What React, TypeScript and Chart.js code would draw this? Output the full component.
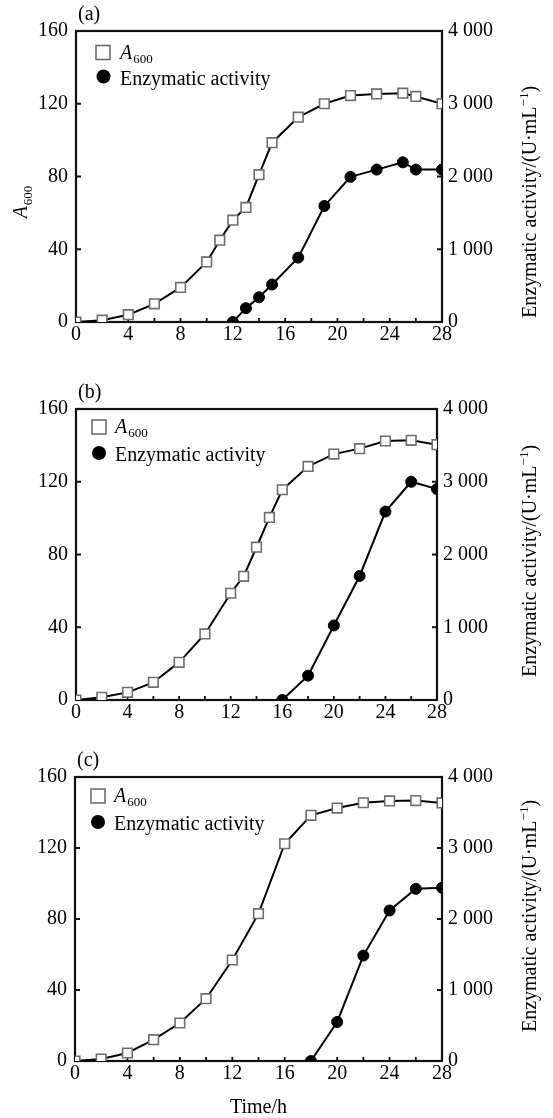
import React, { useEffect, useRef } from "react";
import { Chart, registerables } from "chart.js";

Chart.register(...registerables);

// ---------- data ----------
const timeA_A600 = [0, 2, 4, 6, 8, 10, 11, 12, 13, 14, 15, 17, 19, 21, 23, 25, 26, 28];
const valA_A600 = [0, 1, 4, 10, 19, 33, 45, 56, 63, 81, 98.6, 112.6, 120, 124.5, 125.4, 125.8, 124, 120];
const timeA_Enz = [12, 13, 14, 15, 17, 19, 21, 23, 25, 26, 28];
const valA_Enz = [0, 190, 340, 515, 885, 1595, 1995, 2095, 2195, 2095, 2095];

const timeB_A600 = [0, 2, 4, 6, 8, 10, 12, 13, 14, 15, 16, 18, 20, 22, 24, 26, 28];
const valB_A600 = [0, 1.5, 4.2, 9.7, 20.7, 36.3, 58.7, 68, 84, 100.4, 115.6, 128.4, 135.2, 138.2, 142.4, 142.8, 140.4];
const timeB_Enz = [16, 18, 20, 22, 24, 26, 28];
const valB_Enz = [0, 335, 1025, 1705, 2590, 3000, 2900];

const timeC_A600 = [0, 2, 4, 6, 8, 10, 12, 14, 16, 18, 20, 22, 24, 26, 28];
const valC_A600 = [0, 1.1, 4.5, 12, 21.4, 35.1, 56.9, 83, 122.4, 138.4, 142.5, 145.5, 146.5, 146.7, 145.4];
const timeC_Enz = [18, 20, 22, 24, 26, 28];
const valC_Enz = [0, 550, 1485, 2120, 2425, 2440];

const X_MIN = 0, X_MAX = 28, X_STEP = 4;
const X_MARKS = [0, 2, 4, 6, 8, 10, 12, 14, 16, 18, 20, 22, 24, 26, 28];
const Y_MIN = 0, Y_MAX = 160, Y_STEP = 40;
const Y_MARKS = [0, 40, 80, 120, 160];
const Y1_MIN = 0, Y1_MAX = 4000, Y1_STEP = 1000;
const Y1_MARKS = [0, 1000, 2000, 3000, 4000];

const LEGEND_A600 = "A";
const LEGEND_A600_SUB = "600";
const LEGEND_ENZ = "Enzymatic activity";
const RIGHT_TITLE_MAIN = "Enzymatic activity/(U·mL";
const RIGHT_TITLE_SUP = "−1";
const RIGHT_TITLE_END = ")";
const X_TITLE = "Time/h";

const FONT = '"Liberation Serif", "Times New Roman", serif';

type Panel = {
  id: string;
  label: string;
  top: number;
  height: number;
  padTop: number;
  left: number;
  right: number;
  xh: number;
  tA: number[];
  vA: number[];
  tE: number[];
  vE: number[];
  legSq: [number, number];
  legCi: [number, number];
  legTx: number;
  rightTitleY: number;
  leftTitle: boolean;
  xTitle: boolean;
};

const panels: Panel[] = [
  {
    id: "a", label: "(a)", top: 0, height: 365, padTop: 31, left: 76, right: 442, xh: 43,
    tA: timeA_A600, vA: valA_A600, tE: timeA_Enz, vE: valA_Enz,
    legSq: [103, 52.5], legCi: [103.5, 76.5], legTx: 120, rightTitleY: 202, leftTitle: true, xTitle: false,
  },
  {
    id: "b", label: "(b)", top: 365, height: 370, padTop: 44, left: 76, right: 437, xh: 35,
    tA: timeB_A600, vA: valB_A600, tE: timeB_Enz, vE: valB_Enz,
    legSq: [99, 62], legCi: [99, 88], legTx: 115, rightTitleY: 196, leftTitle: false, xTitle: false,
  },
  {
    id: "c", label: "(c)", top: 735, height: 383, padTop: 42, left: 75, right: 442, xh: 57,
    tA: timeC_A600, vA: valC_A600, tE: timeC_Enz, vE: valC_Enz,
    legSq: [98, 61], legCi: [98, 87], legTx: 114, rightTitleY: 181, leftTitle: false, xTitle: true,
  },
];

const W = 553;

function makePlugin(p: Panel) {
  return {
    id: "decor_" + p.id,
    beforeDatasetsDraw(chart: any) {
      const ctx = chart.ctx;
      const a = chart.chartArea;
      ctx.save();
      ctx.strokeStyle = "#111";
      ctx.lineWidth = 2.2;
      ctx.strokeRect(a.left, a.top, a.right - a.left, a.bottom - a.top);
      ctx.lineWidth = 1.8;
      const xs = chart.scales.x, ys = chart.scales.y, y1s = chart.scales.y1;
      ctx.beginPath();
      for (const v of X_MARKS) {
        const px = xs.getPixelForValue(v);
        ctx.moveTo(px, a.bottom);
        ctx.lineTo(px, a.bottom - 4);
      }
      for (const v of Y_MARKS) {
        const py = ys.getPixelForValue(v);
        ctx.moveTo(a.left, py);
        ctx.lineTo(a.left + 5, py);
      }
      for (const v of Y1_MARKS) {
        const py = y1s.getPixelForValue(v);
        ctx.moveTo(a.right, py);
        ctx.lineTo(a.right - 5, py);
      }
      ctx.stroke();
      ctx.restore();
    },
    afterDraw(chart: any) {
      const ctx = chart.ctx;
      const a = chart.chartArea;
      ctx.save();
      ctx.fillStyle = "#000";
      ctx.textBaseline = "alphabetic";
      ctx.textAlign = "left";
      // panel label
      ctx.font = `20px ${FONT}`;
      ctx.fillText(p.label, a.left + 2, a.top - 11);

      // legend
      const [sx, sy] = p.legSq;
      ctx.fillStyle = "#fff";
      ctx.strokeStyle = "#666";
      ctx.lineWidth = 1.5;
      ctx.fillRect(sx - 7, sy - 7, 14, 14);
      ctx.strokeRect(sx - 7, sy - 7, 14, 14);
      ctx.fillStyle = "#000";
      ctx.font = `italic 20px ${FONT}`;
      ctx.fillText(LEGEND_A600, p.legTx, sy + 6);
      const wA = ctx.measureText(LEGEND_A600).width;
      ctx.font = `13px ${FONT}`;
      ctx.fillText(LEGEND_A600_SUB, p.legTx + wA + 1, sy + 10);
      const [cx, cy] = p.legCi;
      ctx.beginPath();
      ctx.arc(cx, cy, 7, 0, Math.PI * 2);
      ctx.fill();
      ctx.font = `20px ${FONT}`;
      ctx.fillText(LEGEND_ENZ, p.legTx, cy + 8);

      // right title
      ctx.save();
      ctx.translate(536, p.rightTitleY);
      ctx.rotate(-Math.PI / 2);
      ctx.font = `20px ${FONT}`;
      const w1 = ctx.measureText(RIGHT_TITLE_MAIN).width;
      const w3 = ctx.measureText(RIGHT_TITLE_END).width;
      ctx.font = `13px ${FONT}`;
      const w2 = ctx.measureText(RIGHT_TITLE_SUP).width;
      const x0 = -(w1 + w2 + w3) / 2;
      ctx.font = `20px ${FONT}`;
      ctx.fillText(RIGHT_TITLE_MAIN, x0, 0);
      ctx.font = `13px ${FONT}`;
      ctx.fillText(RIGHT_TITLE_SUP, x0 + w1, -8);
      ctx.font = `20px ${FONT}`;
      ctx.fillText(RIGHT_TITLE_END, x0 + w1 + w2, 0);
      ctx.restore();

      // left title
      if (p.leftTitle) {
        ctx.save();
        ctx.translate(27, 202);
        ctx.rotate(-Math.PI / 2);
        ctx.font = `italic 20px ${FONT}`;
        const wa = ctx.measureText(LEGEND_A600).width;
        ctx.font = `13px ${FONT}`;
        const ws = ctx.measureText(LEGEND_A600_SUB).width;
        const s0 = -(wa + ws + 1) / 2;
        ctx.font = `italic 20px ${FONT}`;
        ctx.fillText(LEGEND_A600, s0, 0);
        ctx.font = `13px ${FONT}`;
        ctx.fillText(LEGEND_A600_SUB, s0 + wa + 1, 5);
        ctx.restore();
      }

      if (p.xTitle) {
        ctx.font = `20px ${FONT}`;
        ctx.textAlign = "center";
        ctx.fillText(X_TITLE, (a.left + a.right) / 2, 378);
      }
      ctx.restore();
    },
  };
}

function PanelChart({ p }: { p: Panel }) {
  const ref = useRef<HTMLCanvasElement | null>(null);
  useEffect(() => {
    if (!ref.current) return;
    const tickFont = { family: FONT, size: 20 };
    const chart = new Chart(ref.current, {
      type: "line",
      data: {
        datasets: [
          {
            label: "A600",
            data: p.tA.map((t, i) => ({ x: t, y: p.vA[i] })),
            yAxisID: "y",
            borderColor: "#000",
            borderWidth: 2,
            pointStyle: "rect",
            pointRadius: 6.8,
            pointBackgroundColor: "#fff",
            pointBorderColor: "#6e6e6e",
            pointBorderWidth: 1.6,
            tension: 0,
          },
          {
            label: "Enzymatic activity",
            data: p.tE.map((t, i) => ({ x: t, y: p.vE[i] })),
            yAxisID: "y1",
            borderColor: "#000",
            borderWidth: 2,
            pointStyle: "circle",
            pointRadius: 5.5,
            pointBackgroundColor: "#000",
            pointBorderColor: "#000",
            pointBorderWidth: 1,
            tension: 0,
          },
        ],
      },
      options: {
        responsive: false,
        animation: false,
        events: [],
        layout: { padding: { top: p.padTop, left: 0, right: 0, bottom: 0 } },
        plugins: {
          legend: { display: false },
          tooltip: { enabled: false },
          title: { display: false },
        },
        scales: {
          x: {
            type: "linear",
            min: X_MIN,
            max: X_MAX,
            ticks: { stepSize: X_STEP, autoSkip: false, maxRotation: 0, padding: 1, font: tickFont, color: "#000" },
            grid: { display: false, drawTicks: false },
            border: { display: false },
            afterFit: (s: any) => { s.height = p.xh; },
          },
          y: {
            type: "linear",
            position: "left",
            min: Y_MIN,
            max: Y_MAX,
            ticks: { stepSize: Y_STEP, padding: 8, font: tickFont, color: "#000" },
            grid: { display: false, drawTicks: false },
            border: { display: false },
            afterFit: (s: any) => { s.width = p.left; },
          },
          y1: {
            type: "linear",
            position: "right",
            min: Y1_MIN,
            max: Y1_MAX,
            ticks: {
              stepSize: Y1_STEP,
              padding: 6,
              font: tickFont,
              color: "#000",
              callback: (v: any) => (v === 0 ? "0" : `${Math.floor(v / 1000)} ${String(v % 1000).padStart(3, "0")}`),
            },
            grid: { display: false, drawTicks: false },
            border: { display: false },
            afterFit: (s: any) => { s.width = W - p.right; },
          },
        },
      },
      plugins: [makePlugin(p)],
    } as any);
    return () => chart.destroy();
  }, [p]);
  return (
    <canvas
      ref={ref}
      width={W}
      height={p.height}
      style={{ position: "absolute", left: 0, top: p.top, width: W, height: p.height, display: "block" }}
    />
  );
}

export default function App() {
  return (
    <div style={{ position: "absolute", left: 0, top: 0, width: W, height: 1118, background: "#fff" }}>
      {panels.map((p) => (
        <PanelChart key={p.id} p={p} />
      ))}
    </div>
  );
}
